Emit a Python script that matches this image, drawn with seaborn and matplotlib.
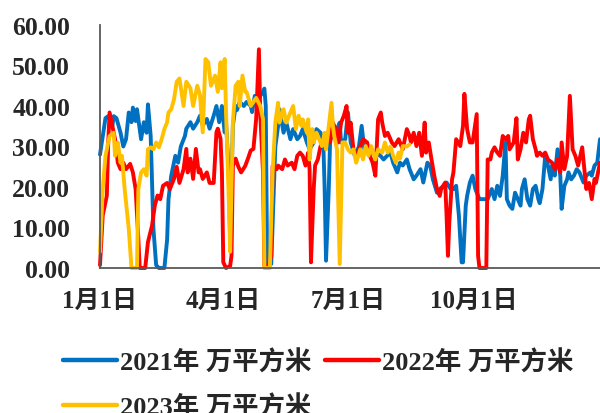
import numpy as np
import pandas as pd
import matplotlib
matplotlib.use("Agg")
import matplotlib.pyplot as plt
import seaborn as sns

# ---------------- data (day of year, value in 万平方米) ----------------
days_2021 = [0, 4, 6, 9, 10, 12, 15, 17, 19, 21, 23, 24, 26, 27, 28, 30, 32, 34, 35, 37, 38, 39, 41, 43, 47,
             49, 50, 52, 55, 57, 59, 62, 63, 66, 68, 71, 73, 75, 78, 80, 83, 85, 87, 89, 91, 92, 94, 95, 97,
             99, 100, 102, 105, 107, 110, 111, 113, 115, 117, 119, 120, 121, 122, 125, 128, 130, 131, 134,
             136, 139, 141, 144, 146, 148, 151, 153, 156, 158, 161, 163, 164, 165, 167, 168, 170, 173, 175,
             176, 179, 181, 183, 186, 189, 191, 193, 196, 198, 201, 204, 207, 209, 212, 214, 217, 219, 221,
             224, 226, 229, 231, 234, 236, 239, 241, 243, 246, 248, 251, 253, 256, 258, 260, 262, 264, 265,
             267, 268, 270, 272, 274, 277, 283, 286, 288, 290, 292, 294, 296, 297, 299, 301, 303, 305, 307,
             308, 310, 312, 314, 316, 318, 320, 321, 323, 325, 327, 329, 330, 332, 334, 336, 337, 339, 341,
             342, 344, 346, 348, 350, 353, 355, 358, 359, 361, 363, 365]
vals_2021 = [28, 37, 37.5, 35, 37.5, 37, 33.4, 30, 31.8, 38.4, 36, 39.6, 36.3, 39.2, 36.7, 31.8, 36, 33.4, 40.4,
             32.6, 21, 9.7, 0.7, 0, 0, 7, 17, 22.8, 27.7, 26, 30, 32.6, 34.4, 36, 34.4, 36, 37.6, 35.2, 36.8,
             34.4, 37.6, 40, 36, 40, 33.5, 36, 23.6, 7.2, 35.2, 40, 39, 41, 40, 41, 40, 38.5, 42.5, 41, 42.5,
             43.5, 44.3, 40, 1, 1, 30, 35, 39.2, 33.4, 35.9, 31.8, 34.3, 31.8, 32.6, 34.3, 31, 29.3, 31, 34.3,
             33.4, 31, 19.5, 1.8, 19.5, 31.8, 32.6, 34.3, 35.9, 31, 31.8, 38.4, 31, 27.7, 30, 35.1, 29.3, 28.5,
             29.3, 27.7, 28, 26.8, 27.5, 28.5, 26, 23.6, 26, 25.3, 26.8, 24.4, 21.9, 22.8, 24.4, 21.1, 26, 25.3,
             21.9, 18.6, 19.5, 20.3, 21.1, 19.5, 19.5, 20.3, 12.9, 1.4, 1.4, 15.4, 17.8, 21.1, 22.8, 19.5, 17,
             17, 19.5, 17, 20.3, 17.8, 22.8, 31, 17, 15.4, 14.6, 18.6, 17, 15.4, 19.5, 21.9, 17, 15.4, 19.5,
             20.3, 17, 16, 19.5, 27.7, 25.3, 21.9, 25.3, 22.8, 29.3, 22.8, 14.6, 20.3, 21.9, 23.6, 21.9, 22.8,
             24.4, 23.6, 21.1, 22.8, 23.6, 22.8, 25.3, 26, 31.8]

days_2022 = [0, 2, 5, 6, 7, 10, 11, 13, 15, 17, 19, 22, 24, 26, 28, 29, 33, 35, 38, 40, 42, 44, 46, 49, 51,
             54, 56, 58, 61, 63, 64, 66, 68, 70, 72, 73, 75, 78, 80, 83, 85, 86, 88, 89, 90, 92, 95, 96, 97,
             99, 101, 103, 106, 108, 110, 112, 114, 116, 117, 119, 120, 123, 125, 126, 129, 130, 133, 135,
             137, 140, 142, 144, 146, 148, 150, 152, 153, 154, 156, 157, 159, 161, 163, 165, 168, 170, 172,
             174, 176, 178, 180, 181, 183, 185, 187, 190, 192, 195, 197, 199, 201, 203, 205, 206, 208, 210,
             213, 215, 218, 219, 221, 224, 226, 227, 229, 231, 233, 235, 237, 238, 240, 242, 244, 246, 248,
             249, 252, 253, 254, 255, 257, 258, 260, 263, 265, 266, 268, 270, 272, 275, 276, 277, 282, 283,
             285, 286, 288, 290, 292, 294, 296, 298, 299, 302, 304, 305, 307, 309, 311, 313, 314, 316, 318,
             319, 321, 323, 325, 327, 330, 332, 334, 336, 337, 339, 341, 343, 345, 347, 349, 352, 354, 355,
             357, 359, 361, 362, 365]
vals_2022 = [0.7, 13, 17.9, 31, 38.4, 33.4, 31.8, 26, 24.4, 26, 24.4, 25.7, 23.6, 19.5, 7.2, 0, 0, 6.4, 10.5,
             15.4, 17.9, 17, 20.3, 21, 19.5, 22, 25, 21, 24.4, 29.4, 23.6, 27, 22, 29.4, 23.6, 24.4, 22, 23.6,
             21, 21, 33.5, 34.4, 31.9, 23.6, 1.4, 0, 0.5, 3, 25.2, 27, 25, 23.6, 25.2, 27, 29, 29.4, 36.8, 54,
             38, 23.6, 0.5, 0.5, 3, 25.2, 24.4, 25.3, 24.4, 26.8, 25.3, 26, 24.4, 27.7, 28.5, 27.7, 25.3, 28.5,
             24.4, 1.4, 19.5, 25.3, 26.8, 30.1, 31, 32.6, 31, 35.9, 34.3, 31, 35.9, 37.6, 40, 33.4, 35.9, 29.3,
             27.7, 30, 31.8, 31, 27.7, 26, 22.8, 36.7, 38.4, 35.9, 32.6, 33.4, 31, 30.1, 31.8, 31, 29.3, 34.3,
             32.6, 31, 33.4, 30.1, 33.4, 27.7, 35.9, 28.5, 31, 26.8, 22.8, 19.5, 17.8, 19.5, 21.1, 12.9, 3,
             11.3, 21.9, 23.6, 31.8, 30.1, 35.1, 43, 34.3, 31, 31, 38, 3, 0, 0, 26.8, 26.8, 28.5, 29.8, 28.5,
             27.7, 32.6, 31.8, 32.6, 29.3, 31, 37, 26.8, 29.3, 33.4, 31, 36.7, 37.6, 31.8, 29.3, 27.7, 28.5,
             27.7, 28.5, 26.8, 26, 24.4, 26.8, 23.6, 31, 24.4, 27.7, 42.5, 29.3, 27.7, 25.3, 29.8, 22.8, 19.5,
             21, 17, 22, 21, 26]

days_2023 = [0, 2, 4, 6, 7, 10, 11, 13, 15, 16, 18, 21, 23, 27, 28, 30, 32, 34, 35, 37, 39, 41, 43, 45, 47,
             49, 50, 52, 54, 56, 58, 61, 63, 66, 68, 71, 73, 75, 77, 79, 81, 84, 86, 88, 89, 91, 92, 94, 95,
             97, 99, 101, 102, 104, 106, 107, 110, 112, 114, 117, 119, 120, 124, 126, 128, 130, 131, 134,
             136, 139, 141, 143, 145, 147, 148, 151, 152, 153, 155, 156, 158, 160, 162, 164, 165, 167, 169,
             170, 171, 173, 175, 177, 179, 181, 183, 185, 187, 190, 192, 194, 196, 198, 201, 203, 206, 208,
             210, 212, 214, 216, 218, 219, 221, 224, 226]
vals_2023 = [4, 19.5, 27.7, 31, 32.6, 33.4, 27.7, 31, 26, 27.7, 19.5, 9.7, 0, 0, 19.5, 23.6, 24.4, 22.8, 29.3,
             29.8, 29.3, 31, 29.8, 31.8, 34.3, 36, 38.4, 39.2, 41.6, 46, 46.8, 40, 46, 44.4, 40, 45, 42.7, 33.5,
             51.6, 50.8, 45, 47.5, 43.5, 50.8, 44.4, 51.6, 38.5, 17, 4, 36, 45, 46, 40, 47.5, 43.5, 43.5, 40,
             41, 42, 40, 36.8, 0, 0, 23.6, 36, 40.8, 35.9, 39.2, 35.9, 38.4, 40, 34.3, 37.6, 35.1, 36.7, 33.4,
             36.7, 26.8, 34.3, 31, 33.4, 31.8, 30.1, 33.4, 29.3, 35.1, 40.8, 35.1, 32.6, 29.3, 1, 31, 31, 29.3,
             28.5, 29.3, 26, 29.3, 26.8, 30.1, 27.7, 30.1, 26.8, 29.3, 28.5, 31, 28.5, 30, 27.7, 26, 28.5, 27,
             30.1, 30, 30.5]

series_names = ["2021年 万平方米", "2022年 万平方米", "2023年 万平方米"]
series_colors = ["#0070C0", "#FF0000", "#FFC000"]

x_tick_days = [0, 90, 181, 273]
x_tick_labels = ["1月1日", "4月1日", "7月1日", "10月1日"]
y_ticks = [0, 10, 20, 30, 40, 50, 60]

# ---------------- style ----------------
sns.set_style("white")
plt.rcParams["font.family"] = ["Liberation Serif", "Noto Sans CJK SC", "DejaVu Sans"]
plt.rcParams["font.weight"] = "bold"
mixed = ["Liberation Serif", "Noto Sans CJK SC"]

df = pd.concat([
    pd.DataFrame({"day": days_2021, "value": vals_2021, "series": series_names[0]}),
    pd.DataFrame({"day": days_2022, "value": vals_2022, "series": series_names[1]}),
    pd.DataFrame({"day": days_2023, "value": vals_2023, "series": series_names[2]}),
], ignore_index=True)

fig = plt.figure(figsize=(6.0, 4.14), dpi=100)
ax = fig.add_axes([100 / 600, 1 - 269 / 414, 500 / 600, (269 - 26) / 414])

sns.lineplot(data=df, x="day", y="value", hue="series", hue_order=series_names,
             palette=series_colors, linewidth=2.8, estimator=None, sort=True, ax=ax,
             legend=False)
for ln in ax.get_lines():
    ln.set_solid_joinstyle("round")
    ln.set_solid_capstyle("round")
    ln.set_clip_on(False)

ax.set_xlim(0, 365)
ax.set_ylim(0, 60)
ax.set_xlabel("")
ax.set_ylabel("")

for s in ["top", "right"]:
    ax.spines[s].set_visible(False)
for s in ["left", "bottom"]:
    ax.spines[s].set_color("#595959")
    ax.spines[s].set_linewidth(1.3)

ax.set_yticks(y_ticks)
ax.set_yticklabels([f"{v:.2f}" for v in y_ticks])
ax.tick_params(axis="y", direction="in", length=6, width=1.3, color="#595959",
               pad=21.5, labelsize=18.5)
for t in ax.get_yticklabels():
    t.set_fontweight("bold")
    t.set_fontfamily("Liberation Serif")

ax.set_xticks(x_tick_days)
ax.set_xticklabels(x_tick_labels)
ax.tick_params(axis="x", which="major", length=0, pad=15, labelsize=18)
for t in ax.get_xticklabels():
    t.set_fontweight("bold")
    t.set_fontfamily(mixed)
ax.set_xticks([x_tick_days[2]], minor=True)
ax.tick_params(axis="x", which="minor", direction="in", length=5, width=1.3, color="#595959")

lines = ax.get_lines()
order = [0, 2, 1]
leg = fig.legend([lines[i] for i in order], [series_names[i] for i in order],
                 loc="upper left", bbox_to_anchor=(63 / 600, 1 - 350 / 414),
                 ncol=2, frameon=False, borderpad=0, borderaxespad=0,
                 handlelength=2.05, handletextpad=0.11, columnspacing=0.53,
                 labelspacing=0.76,
                 prop={"size": 19, "weight": "bold", "family": mixed})
for lh in leg.get_lines():
    lh.set_linewidth(3.2)

fig.savefig("out.png", dpi=100)
